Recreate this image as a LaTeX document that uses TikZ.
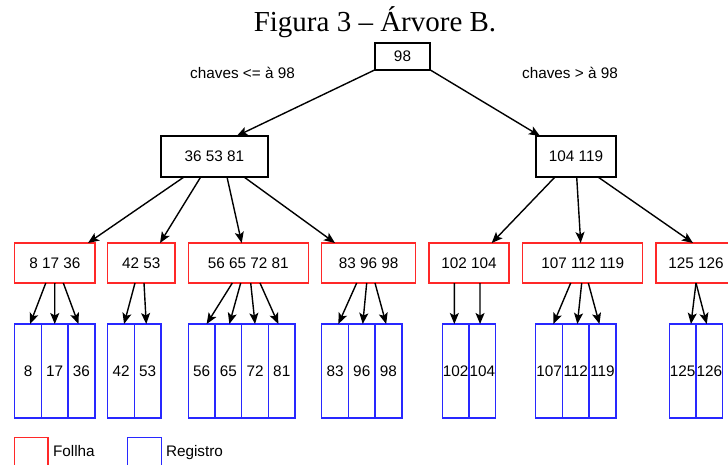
\documentclass[tikz,border=0pt]{standalone}
\usepackage{fontspec}
\setmainfont{Liberation Sans}
\newfontfamily\titlefont{Liberation Serif}
\usetikzlibrary{positioning,arrows.meta}
\definecolor{leafred}{RGB}{255,40,40}
\definecolor{regblue}{RGB}{40,40,255}

\begin{document}
\begin{tikzpicture}
[x=1pt,y=-1pt,
 every node/.style={inner sep=0pt,outer sep=0pt,font=\fontsize{15.3}{18}\selectfont},
 inner/.style={draw=black,line width=1.5pt,minimum height=27pt},
 leaf/.style={draw=leafred,line width=1.5pt,minimum height=40pt},
 reg/.style={draw=regblue,line width=1.5pt,minimum width=26.7pt,minimum height=94pt},
 arr/.style={line width=1.4pt,-{Stealth[length=11pt,width=9pt,inset=2.5pt]}}]
\clip (0,0) rectangle (728,464);
\node[font=\titlefont\fontsize{29}{32}\selectfont,anchor=base] (title) at (375,31.7) {Figura 3 – Árvore B.};
% inner nodes
\node[inner,minimum width=55pt]                    (root) at (402.5,56.3) {98};
\node[inner,minimum width=107pt,minimum height=41pt] (n1) at (214.5,156.5) {36 53 81};
\node[inner,minimum width=80pt,minimum height=41pt]  (n2) at (576,156.5)   {104 119};
\node (lblL) at (242.5,73) {chaves <= à 98};
\node (lblR) at (570,73)   {chaves > à 98};
% leaves
\node[leaf,minimum width=80.3pt] (l1) at (54.8,263)  {8 17 36};
\node[leaf,minimum width=67.3pt] (l2) at (141.3,263) {42 53};
\node[leaf,minimum width=120pt]  (l3) at (248.3,263) {56 65 72 81};
\node[leaf,minimum width=94pt]   (l4) at (368.7,263) {83 96 98};
\node[leaf,minimum width=80pt]   (l5) at (469,263)   {102 104};
\node[leaf,minimum width=120pt]  (l6) at (582.7,263) {107 112 119};
\node[leaf,minimum width=80pt]   (l7) at (696,263)   {125 126};
% records
\node[reg] (r1a) at (28.05,371)                  {8};
\node[reg] (r1b) [on grid,right=26.7pt of r1a]   {17};
\node[reg] (r1c) [on grid,right=26.7pt of r1b]   {36};
\node[reg] (r2a) at (121.05,371)                 {42};
\node[reg] (r2b) [on grid,right=26.7pt of r2a]   {53};
\node[reg] (r3a) at (201.65,371)                 {56};
\node[reg] (r3b) [on grid,right=26.7pt of r3a]   {65};
\node[reg] (r3c) [on grid,right=26.7pt of r3b]   {72};
\node[reg] (r3d) [on grid,right=26.7pt of r3c]   {81};
\node[reg] (r4a) at (335.05,371)                 {83};
\node[reg] (r4b) [on grid,right=26.7pt of r4a]   {96};
\node[reg] (r4c) [on grid,right=26.7pt of r4b]   {98};
\node[reg] (r5a) at (455.65,371)                 {102};
\node[reg] (r5b) [on grid,right=26.7pt of r5a]   {104};
\node[reg] (r6a) at (549.05,371)                 {107};
\node[reg] (r6b) [on grid,right=26.7pt of r6a]   {112};
\node[reg] (r6c) [on grid,right=26.7pt of r6b]   {119};
\node[reg] (r7a) at (682.65,371)                 {125};
\node[reg] (r7b) [on grid,right=26.7pt of r7a]   {126};
% legend
\node[leaf,minimum width=33.5pt,minimum height=30pt] (keyleaf) at (31.3,452.3) {};
\node[anchor=base west] (keyleaftxt) at (53,456) {Follha};
\node[reg,draw=regblue,minimum width=34pt,minimum height=30pt] (keyreg) at (144.7,452.3) {};
\node[anchor=base west] (keyregtxt) at (166,456) {Registro};
% tree edges
\path[arr] (root.south west)          edge ([xshift=22.2pt]n1.north);
\path[arr] (root.south east)          edge ([xshift=-36pt]n2.north);
\path[arr] ([xshift=-30.5pt]n1.south) edge ([xshift=33.2pt]l1.north);
\path[arr] ([xshift=-13.8pt]n1.south) edge ([xshift=18.7pt]l2.north);
\path[arr] ([xshift=12.5pt]n1.south)  edge ([xshift=-6.6pt]l3.north);
\path[arr] ([xshift=29.5pt]n1.south)  edge ([xshift=-33.7pt]l4.north);
\path[arr] ([xshift=-21pt]n2.south)   edge ([xshift=22.7pt]l5.north);
\path[arr] ([xshift=0.7pt]n2.south)   edge ([xshift=-2pt]l6.north);
\path[arr] ([xshift=22pt]n2.south)    edge ([xshift=-3pt]l7.north);
% leaf to record edges
\path[arr] ([xshift=-9pt]l1.south)    edge ([xshift=2pt]r1a.north);
\path[arr] (l1.south)                 edge (r1b.north);
\path[arr] ([xshift=8.5pt]l1.south)   edge ([xshift=-3pt]r1c.north);
\path[arr] ([xshift=-6.3pt]l2.south)  edge ([xshift=3pt]r2a.north);
\path[arr] ([xshift=2.7pt]l2.south)   edge ([xshift=-1.5pt]r2b.north);
\path[arr] ([xshift=-16pt]l3.south)   edge ([xshift=5pt]r3a.north);
\path[arr] ([xshift=-7.6pt]l3.south)  edge ([xshift=1pt]r3b.north);
\path[arr] ([xshift=2.4pt]l3.south)   edge (r3c.north);
\path[arr] ([xshift=11.7pt]l3.south)  edge ([xshift=-3.4pt]r3d.north);
\path[arr] ([xshift=-12pt]l4.south)   edge ([xshift=3.3pt]r4a.north);
\path[arr] ([xshift=-2pt]l4.south)    edge ([xshift=1pt]r4b.north);
\path[arr] ([xshift=6.3pt]l4.south)   edge ([xshift=-2.3pt]r4c.north);
\path[arr] ([xshift=-14.7pt]l5.south) edge ([xshift=-1.3pt]r5a.north);
\path[arr] ([xshift=11pt]l5.south)    edge ([xshift=-2.3pt]r5b.north);
\path[arr] ([xshift=-12pt]l6.south)   edge ([xshift=4.3pt]r6a.north);
\path[arr] ([xshift=-1pt]l6.south)    edge ([xshift=1.6pt]r6b.north);
\path[arr] ([xshift=5.6pt]l6.south)   edge ([xshift=-3pt]r6c.north);
\path[arr] (l7.south)                 edge ([xshift=8.3pt]r7a.north);
\path[arr] (l7.south)                 edge ([xshift=-2.6pt]r7b.north);
\end{tikzpicture}
\end{document}
